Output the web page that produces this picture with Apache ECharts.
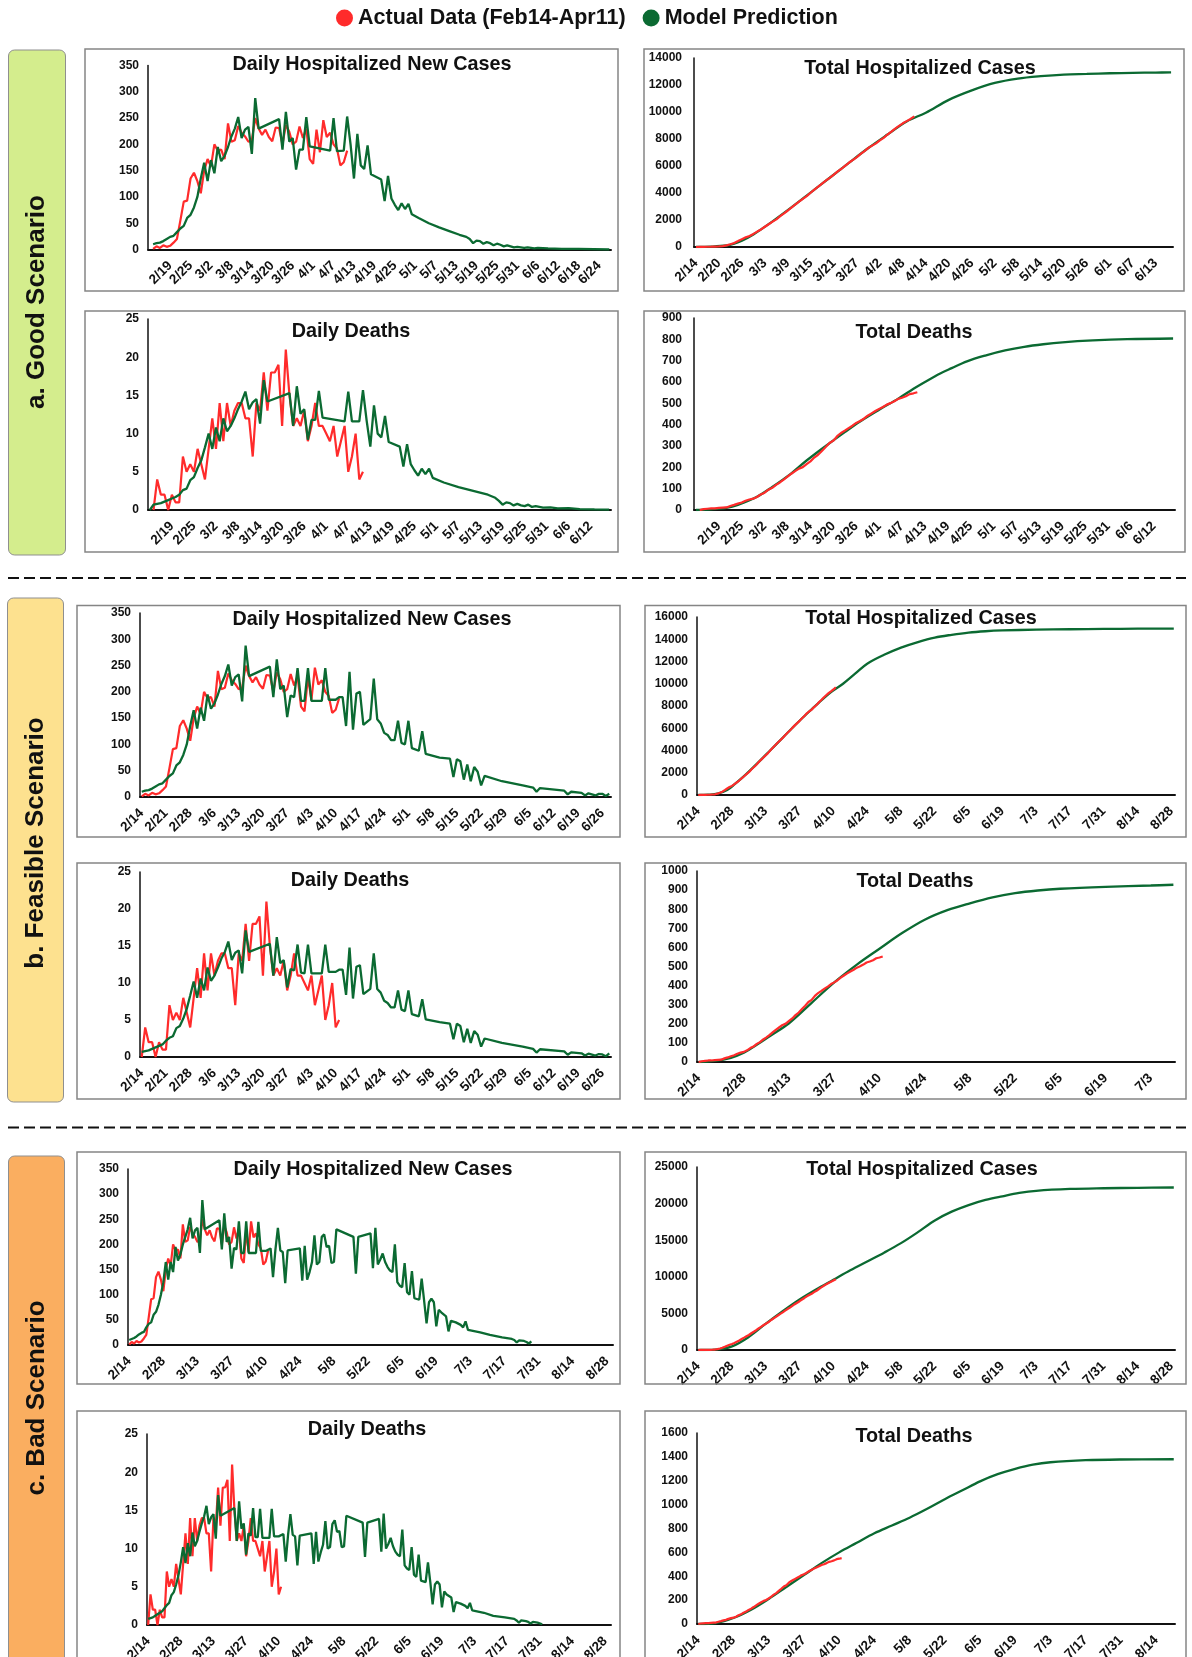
<!DOCTYPE html>
<html>
<head>
<meta charset="utf-8">
<title>COVID-19 hospitalization scenarios</title>
<script src="https://cdn.jsdelivr.net/npm/echarts@6/dist/echarts.min.js"></script>
<style>
  html, body { margin: 0; padding: 0; background: #ffffff; }
  #chart { width: 1192px; height: 1657px; }
</style>
</head>
<body>
<div id="chart"></div>
<script>
// ---- Observed data, one value per day from 2/14 to 4/11 ----
const actualDailyCases = [1,6,3,8,5,7,13,20,55,91,93,135,146,130,107,150,172,158,200,188,190,172,240,205,208,235,222,215,205,208,250,230,218,228,214,206,232,231,200,237,224,200,205,234,212,230,172,163,228,185,246,214,222,200,192,160,166,188];
const actualDailyDeaths = [0,4,2,2,0,2,1,1,7,5,6,5,8,6,4,8,12,8,14,9,14,11,13,14,14,12,12,7,14,13,18,13,18,18,19,11,21,15,11,12,11,13,9,11,14,11,11,10,9,11,7,9,11,5,7,10,4,5];
const actualTotalCases = [1,7,10,18,23,30,43,63,118,209,302,437,583,713,820,970,1142,1300,1500,1688,1878,2050,2290,2495,2703,2938,3160,3375,3580,3788,4038,4268,4486,4714,4928,5134,5366,5597,5797,6034,6258,6458,6663,6897,7109,7339,7511,7674,7902,8087,8333,8547,8769,8969,9161,9321,9487,9675];
const actualTotalDeaths = [0,4,6,8,8,10,11,12,19,24,30,35,43,49,53,61,73,81,95,104,118,129,142,156,170,182,194,201,215,228,246,259,277,295,314,325,346,361,372,384,395,408,417,428,442,453,464,474,483,494,501,510,521,526,533,543,547,552];

// ---- Model predictions as [days after 2/14, value] ----
const goodDailyCasesModel = [[0,10],[1,12],[2,13],[3,16],[4,20],[5,24],[6,26],[7,33],[8,40],[9,45],[10,60],[11,66],[12,80],[13,100],[14,135],[15,165],[16,130],[17,170],[18,145],[19,195],[20,168],[21,178],[22,195],[23,215],[24,230],[25,252],[26,212],[27,228],[28,233],[29,182],[30,288],[31,230],[37,248],[38,190],[39,262],[40,205],[41,212],[42,152],[43,190],[44,190],[45,252],[46,196],[52,188],[53,250],[54,187],[56,188],[57,253],[58,200],[59,135],[60,220],[61,160],[62,153],[63,198],[64,143],[67,133],[68,92],[69,140],[70,97],[71,85],[72,75],[73,88],[74,77],[75,87],[76,67],[78,60],[81,50],[84,42],[87,35],[90,28],[92,24],[93,20],[94,12],[95,17],[96,16],[97,11],[98,14],[99,12],[100,8],[101,11],[102,9],[103,6],[104,8],[105,6],[106,4],[107,5],[109,3],[110,4],[112,2],[113,3],[116,2],[120,1],[125,1],[134,0]];
const goodDailyDeathsModel = [[-1,0],[0,0.7],[1,0.8],[2,0.9],[3,1.1],[4,1.3],[5,1.5],[6,1.7],[7,2.0],[8,2.6],[9,2.8],[10,3.9],[11,4.3],[12,5.5],[13,6.5],[14,8.2],[15,10.0],[16,8.0],[17,10.8],[18,9.0],[19,12.0],[20,10.3],[21,11.0],[22,12.0],[23,13.2],[24,14.2],[25,15.5],[26,13.2],[27,14.1],[28,14.5],[29,11.3],[30,17.0],[31,14.2],[37,15.3],[38,11.0],[39,16.2],[40,12.6],[41,13.2],[42,9.2],[43,11.8],[44,11.8],[45,15.6],[46,12.1],[52,11.6],[53,15.5],[54,11.6],[56,11.6],[57,15.7],[58,11.7],[59,8.3],[60,13.7],[61,10.0],[62,9.5],[63,12.3],[64,8.9],[67,8.3],[68,5.7],[69,8.6],[70,6.0],[71,5.2],[72,4.5],[73,5.4],[74,4.7],[75,5.4],[76,4.2],[79,3.6],[83,3.0],[87,2.5],[91,2.0],[93,1.6],[94,1.2],[95,0.7],[96,1.0],[97,0.9],[98,0.6],[99,0.8],[100,0.6],[101,0.5],[102,0.7],[103,0.4],[104,0.5],[106,0.3],[108,0.35],[110,0.2],[113,0.25],[116,0.12],[120,0.08],[124,0.05]];
const goodTotalCasesModel = [[0,0],[4,25],[8,110],[10,250],[12,470],[15,930],[20,1900],[25,2950],[30,4050],[35,5150],[40,6250],[45,7330],[50,8330],[55,9300],[60,9950],[66,10900],[72,11600],[78,12150],[84,12470],[90,12650],[96,12770],[102,12820],[108,12870],[114,12900],[120,12920],[124,12940]];
const goodTotalDeathsModel = [[-1,0],[3,3],[7,10],[10,24],[15,62],[19,108],[24,172],[28,232],[33,300],[38,365],[42,415],[47,470],[52,522],[56,568],[59,600],[63,640],[66,665],[70,697],[75,725],[80,748],[85,765],[90,777],[95,786],[103,795],[112,801],[124,804]];

const feasibleDailyCasesModel = [[0,10],[1,12],[2,13],[3,16],[4,20],[5,24],[6,26],[7,33],[8,40],[9,45],[10,60],[11,66],[12,80],[13,100],[14,135],[15,165],[16,130],[17,170],[18,145],[19,195],[20,168],[21,178],[22,195],[23,215],[24,230],[25,252],[26,212],[27,228],[28,233],[29,182],[30,288],[31,230],[37,248],[38,190],[39,262],[40,205],[41,212],[42,152],[43,193],[44,190],[45,245],[46,183],[47,183],[48,245],[49,183],[52,183],[53,245],[54,185],[56,185],[57,190],[58,190],[59,135],[60,238],[61,128],[62,197],[63,200],[64,137],[66,148],[67,225],[68,148],[69,140],[70,122],[71,118],[72,108],[73,108],[74,145],[75,103],[76,100],[77,145],[78,93],[80,88],[81,125],[82,82],[86,75],[89,73],[90,38],[91,72],[92,68],[93,33],[94,62],[95,30],[96,57],[97,48],[98,22],[99,40],[104,30],[110,22],[113,18],[114,10],[115,17],[122,12],[123,5],[124,10],[127,8],[128,3],[129,7],[131,3],[132,6],[133,6],[134,2],[135,6]];
const feasibleDailyDeathsModel = [[0,0.7],[1,0.8],[2,0.9],[3,1.1],[4,1.3],[5,1.5],[6,1.7],[7,2.2],[8,2.6],[9,2.8],[10,3.9],[11,4.2],[12,5.2],[13,6.5],[14,8.3],[15,10.2],[16,8.0],[17,10.6],[18,9.0],[19,12.1],[20,10.3],[21,11.0],[22,12.1],[23,13.3],[24,14.2],[25,15.6],[26,13.1],[27,14.1],[28,14.4],[29,11.3],[30,17.1],[31,14.2],[37,15.3],[38,11.0],[39,16.2],[40,12.7],[41,13.1],[42,9.4],[43,11.9],[44,11.7],[45,15.2],[46,11.4],[47,11.3],[48,15.2],[49,11.3],[52,11.3],[53,15.2],[54,11.5],[56,11.5],[57,11.8],[58,11.8],[59,8.4],[60,14.8],[61,7.9],[62,12.2],[63,12.4],[64,8.5],[66,9.2],[67,14.0],[68,9.2],[69,8.7],[70,7.6],[71,7.3],[72,6.7],[73,6.7],[74,9.0],[75,6.4],[76,6.2],[77,9.0],[78,5.8],[80,5.5],[81,7.8],[82,5.1],[86,4.7],[89,4.5],[90,2.4],[91,4.5],[92,4.2],[93,2.0],[94,3.8],[95,1.9],[96,3.5],[97,3.0],[98,1.4],[99,2.5],[104,1.9],[110,1.4],[113,1.1],[114,0.6],[115,1.05],[122,0.75],[123,0.3],[124,0.62],[127,0.5],[128,0.2],[129,0.45],[131,0.2],[132,0.4],[133,0.35],[134,0.1],[135,0.5]];
const feasibleTotalCasesModel = [[0,0],[4,30],[8,120],[12,450],[15,950],[20,1900],[25,2950],[30,4050],[35,5150],[40,6250],[45,7300],[50,8300],[55,9250],[60,10000],[65,10900],[70,11800],[77,12600],[84,13250],[91,13750],[98,14150],[105,14400],[112,14600],[119,14720],[126,14790],[140,14860],[154,14900],[168,14930],[182,14950],[197,14960]];
const feasibleTotalDeathsModel = [[0,0],[5,6],[10,22],[14,48],[18,90],[22,135],[28,203],[35,310],[42,417],[49,510],[56,593],[63,675],[70,745],[77,795],[84,831],[91,862],[98,884],[105,898],[112,907],[126,917],[140,924],[147,928]];

const badDailyCasesModel = [[0,10],[1,12],[2,14],[3,17],[4,21],[5,24],[6,26],[7,35],[8,42],[9,45],[10,60],[11,66],[12,80],[13,100],[14,125],[15,165],[16,130],[17,165],[18,145],[19,195],[20,168],[21,180],[22,200],[23,215],[24,230],[25,253],[26,212],[27,228],[28,233],[29,183],[30,288],[31,230],[37,248],[38,190],[39,262],[40,205],[41,215],[42,152],[43,193],[44,190],[45,246],[46,183],[47,183],[48,246],[49,183],[52,183],[53,245],[54,187],[56,187],[58,192],[59,135],[60,190],[61,233],[62,188],[63,185],[64,123],[65,188],[70,192],[71,128],[72,197],[73,130],[74,145],[75,165],[76,218],[77,160],[78,165],[79,215],[80,220],[81,195],[82,197],[83,163],[84,165],[85,230],[92,215],[93,142],[94,215],[99,222],[100,153],[101,233],[102,160],[103,170],[104,182],[105,165],[106,155],[107,148],[108,145],[109,200],[110,125],[111,118],[112,115],[113,163],[114,105],[115,100],[116,147],[117,93],[119,90],[120,132],[121,88],[122,43],[123,85],[124,92],[125,85],[126,37],[127,70],[128,65],[130,57],[131,27],[132,48],[134,45],[136,40],[137,35],[138,47],[139,30],[144,25],[148,20],[153,15],[157,12],[158,10],[159,5],[160,9],[162,8],[163,6],[164,3],[165,7]];
const badDailyDeathsModel = [[0,0.8],[1,0.9],[2,1.0],[3,1.2],[4,1.4],[5,1.6],[6,1.8],[7,2.2],[8,2.6],[9,2.9],[10,3.9],[11,4.3],[12,5.3],[13,6.5],[14,8.2],[15,10.2],[16,8.1],[17,10.7],[18,9.0],[19,12.1],[20,10.3],[21,11.0],[22,12.2],[23,13.3],[24,14.2],[25,15.6],[26,13.2],[27,14.1],[28,14.5],[29,11.3],[30,17.0],[31,14.3],[37,15.3],[38,11.0],[39,16.2],[40,12.6],[41,13.3],[42,9.2],[43,12.0],[44,11.7],[45,15.3],[46,11.5],[47,11.5],[48,15.2],[49,11.4],[52,11.4],[53,15.2],[54,11.6],[56,11.6],[58,11.9],[59,8.3],[60,11.8],[61,14.5],[62,11.8],[63,11.6],[64,7.8],[65,11.7],[70,12.0],[71,8.0],[72,12.2],[73,8.3],[74,9.5],[75,10.5],[76,13.6],[77,10.0],[78,10.2],[79,13.2],[80,13.7],[81,12.2],[82,12.3],[83,10.2],[84,10.3],[85,14.3],[92,13.4],[93,8.9],[94,13.4],[99,13.9],[100,9.6],[101,14.6],[102,10.0],[103,10.6],[104,11.4],[105,10.3],[106,9.6],[107,9.2],[108,9.0],[109,12.5],[110,7.8],[111,7.4],[112,7.2],[113,10.2],[114,6.6],[115,6.3],[116,9.2],[117,5.8],[119,5.6],[120,8.2],[121,5.6],[122,2.7],[123,5.3],[124,5.7],[125,5.3],[126,2.3],[127,4.4],[128,4.0],[130,3.6],[131,1.7],[132,3.0],[134,2.8],[136,2.5],[137,2.2],[138,2.9],[139,1.9],[144,1.6],[148,1.2],[153,1.0],[157,0.8],[158,0.6],[159,0.3],[160,0.6],[162,0.5],[163,0.4],[164,0.2],[165,0.4],[167,0.3],[169,0.1]];
const badTotalCasesModel = [[0,0],[7,60],[14,500],[21,1800],[28,3600],[35,5300],[42,6900],[49,8300],[56,9600],[63,10900],[70,12100],[77,13300],[84,14600],[91,16100],[98,17700],[105,18900],[112,19800],[119,20500],[126,21000],[133,21450],[140,21740],[154,22000],[168,22100],[182,22150],[197,22200]];
const badTotalDeathsModel = [[0,0],[7,8],[14,50],[21,120],[28,210],[35,310],[42,410],[49,510],[56,600],[63,680],[70,760],[77,825],[84,890],[91,965],[98,1045],[105,1120],[112,1195],[119,1255],[126,1300],[133,1335],[140,1355],[154,1372],[168,1378],[189,1380]];

// ---- Text ----
const ACTUAL = 'Actual Data (Feb14-Apr11)';
const MODEL = 'Model Prediction';
const scenarioNames = ['a. Good Scenario', 'b. Feasible Scenario', 'c. Bad Scenario'];
const TITLE_CASES = 'Daily Hospitalized New Cases';
const TITLE_TOTAL_CASES = 'Total Hospitalized Cases';
const TITLE_DEATHS = 'Daily Deaths';
const TITLE_TOTAL_DEATHS = 'Total Deaths';

// ---- Styling ----
const RED = '#ff2b2b';
const GREEN = '#0b6a32';
const MAIN_FONT = '"Liberation Sans", Arial, sans-serif';

// Dates counted from 2/14/2020
const BASE = Date.UTC(2020, 1, 14);
function dayLabel(offset) {
  const d = new Date(BASE + offset * 86400000);
  return (d.getUTCMonth() + 1) + '/' + d.getUTCDate();
}
function dateRange(startOffset, count) {
  return Array.from({ length: count }, (_, k) => dayLabel(startOffset + k));
}
function fromKnots(list) { return list.map(([d, v]) => [dayLabel(d), v]); }
function fromDaily(values) { return values.map((v, k) => [dayLabel(k), v]); }

// One entry per small chart: axis range, label spacing, data and placement
const panels = [
  { title: TITLE_CASES, start: -1, days: 136, labelFirst: 6, labelStep: 6, yMax: 350, yStep: 50, actual: actualDailyCases, model: goodDailyCasesModel, total: false,
    grid: [148, 65.5, 463, 184], box: [85, 49, 533, 242], titleAt: [372, 65], yGap: 9 },
  { title: TITLE_TOTAL_CASES, start: 0, days: 125, labelFirst: 0, labelStep: 6, yMax: 14000, yStep: 2000, actual: actualTotalCases, model: goodTotalCasesModel, total: true,
    grid: [694, 58, 479, 189], box: [644, 49, 540, 242], titleAt: [920, 69], yGap: 12 },
  { title: TITLE_DEATHS, start: -1, days: 126, labelFirst: 6, labelStep: 6, yMax: 25, yStep: 5, actual: actualDailyDeaths, model: goodDailyDeathsModel, total: false,
    grid: [148, 319, 463, 191], box: [85, 311, 533, 241], titleAt: [351, 332], yGap: 9 },
  { title: TITLE_TOTAL_DEATHS, start: -1, days: 126, labelFirst: 6, labelStep: 6, yMax: 900, yStep: 100, actual: actualTotalDeaths, model: goodTotalDeathsModel, total: true,
    grid: [694, 318, 481, 192], box: [644, 311, 541, 241], titleAt: [914, 333], yGap: 12 },

  { title: TITLE_CASES, start: 0, days: 136, labelFirst: 0, labelStep: 7, yMax: 350, yStep: 50, actual: actualDailyCases, model: feasibleDailyCasesModel, total: false,
    grid: [140, 613, 471, 184], box: [77, 605.5, 543, 231.5], titleAt: [372, 620], yGap: 9 },
  { title: TITLE_TOTAL_CASES, start: 0, days: 198, labelFirst: 0, labelStep: 14, yMax: 16000, yStep: 2000, actual: actualTotalCases, model: feasibleTotalCasesModel, total: true,
    grid: [697, 617, 478, 178], box: [645, 605.5, 541, 231.5], titleAt: [921, 619], yGap: 9 },
  { title: TITLE_DEATHS, start: 0, days: 136, labelFirst: 0, labelStep: 7, yMax: 25, yStep: 5, actual: actualDailyDeaths, model: feasibleDailyDeathsModel, total: false,
    grid: [140, 872, 471, 185], box: [77, 863, 543, 236], titleAt: [350, 881], yGap: 9 },
  { title: TITLE_TOTAL_DEATHS, start: 0, days: 148, labelFirst: 0, labelStep: 14, yMax: 1000, yStep: 100, actual: actualTotalDeaths, model: feasibleTotalDeathsModel, total: true,
    grid: [697, 871, 478, 191], box: [645, 863, 541, 236], titleAt: [915, 882], yGap: 9 },

  { title: TITLE_CASES, start: 0, days: 199, labelFirst: 0, labelStep: 14, yMax: 350, yStep: 50, actual: actualDailyCases, model: badDailyCasesModel, total: false,
    grid: [128, 1169, 485, 176], box: [77, 1152, 543, 232], titleAt: [373, 1170], yGap: 9 },
  { title: TITLE_TOTAL_CASES, start: 0, days: 198, labelFirst: 0, labelStep: 14, yMax: 25000, yStep: 5000, actual: actualTotalCases, model: badTotalCasesModel, total: true,
    grid: [697, 1167, 478, 183], box: [645, 1152, 541, 232], titleAt: [922, 1170], yGap: 9 },
  { title: TITLE_DEATHS, start: 0, days: 199, labelFirst: 0, labelStep: 14, yMax: 25, yStep: 5, actual: actualDailyDeaths, model: badDailyDeathsModel, total: false,
    grid: [147, 1434, 464, 191], box: [77, 1411, 543, 252], titleAt: [367, 1430], yGap: 9 },
  { title: TITLE_TOTAL_DEATHS, start: 0, days: 190, labelFirst: 0, labelStep: 14, yMax: 1600, yStep: 200, actual: actualTotalDeaths, model: badTotalDeathsModel, total: true,
    grid: [697, 1433, 478, 191], box: [645, 1411, 541, 252], titleAt: [914, 1437], yGap: 9 }
];

const scenarioBoxes = [
  { name: scenarioNames[0], fill: '#d4ed8d', rect: [8.5, 50, 57, 505], textAt: [37, 302] },
  { name: scenarioNames[1], fill: '#fde18f', rect: [7.5, 598, 56, 504], textAt: [35.5, 843] },
  { name: scenarioNames[2], fill: '#faae60', rect: [8.5, 1156, 56, 520], textAt: [36.5, 1398] }
];
const separatorsY = [578, 1127.5];

const grids = [], xAxes = [], yAxes = [], series = [], elements = [];

panels.forEach((p, i) => {
  // Fixed plot rectangles: axis labels may run past the page edge without shrinking the plot
  grids.push({ left: p.grid[0], top: p.grid[1], width: p.grid[2], height: p.grid[3],
               containLabel: false, outerBoundsMode: 'none' });
  xAxes.push({
    type: 'category', gridIndex: i, data: dateRange(p.start, p.days), boundaryGap: true,
    axisLine: { show: true, onZero: true, lineStyle: { color: '#111', width: 2 } },
    axisTick: { show: false },
    splitLine: { show: false },
    axisLabel: {
      interval: (idx) => idx >= p.labelFirst && (idx - p.labelFirst) % p.labelStep === 0,
      rotate: 45, margin: 14, color: '#111', fontWeight: 'bold', fontSize: 13.5, fontFamily: MAIN_FONT
    }
  });
  yAxes.push({
    type: 'value', gridIndex: i, min: 0, max: p.yMax, interval: p.yStep,
    axisLine: { show: true, lineStyle: { color: '#111', width: 1.5 } },
    axisTick: { show: false },
    splitLine: { show: false },
    axisLabel: { margin: p.yGap, color: '#111', fontWeight: 'bold', fontSize: 12, fontFamily: MAIN_FONT,
                 formatter: (v) => String(v) }
  });
  const actualSeries = {
    name: ACTUAL, type: 'line', xAxisIndex: i, yAxisIndex: i, data: fromDaily(p.actual),
    symbol: 'none', lineStyle: { color: RED, width: 2.2 }, itemStyle: { color: RED },
    z: p.total ? 4 : 2
  };
  const modelSeries = {
    name: MODEL, type: 'line', xAxisIndex: i, yAxisIndex: i, data: fromKnots(p.model),
    symbol: 'none', smooth: p.total ? 0.35 : false,
    lineStyle: { color: GREEN, width: 2.3 }, itemStyle: { color: GREEN },
    z: p.total ? 2 : 4
  };
  series.push(actualSeries, modelSeries);

  elements.push({
    type: 'rect', shape: { x: p.box[0], y: p.box[1], width: p.box[2], height: p.box[3] },
    style: { fill: 'none', stroke: '#858585', lineWidth: 1.5 }, z: 1, silent: true
  });
  elements.push({
    type: 'text', x: p.titleAt[0], y: p.titleAt[1], z: 10, silent: true,
    style: { text: p.title, font: 'bold 19.8px ' + MAIN_FONT, fill: '#111',
             textAlign: 'center', textVerticalAlign: 'middle', align: 'center', verticalAlign: 'middle' }
  });
});

scenarioBoxes.forEach((s) => {
  elements.push({
    type: 'rect', shape: { x: s.rect[0], y: s.rect[1], width: s.rect[2], height: s.rect[3], r: 6 },
    style: { fill: s.fill, stroke: '#8f8f8f', lineWidth: 1 }, z: 1, silent: true
  });
  elements.push({
    type: 'text', x: s.textAt[0], y: s.textAt[1], rotation: Math.PI / 2, z: 10, silent: true,
    style: { text: s.name, font: 'bold 26px ' + MAIN_FONT, fill: '#111',
             textAlign: 'center', textVerticalAlign: 'middle', align: 'center', verticalAlign: 'middle' }
  });
});

separatorsY.forEach((y) => {
  elements.push({
    type: 'line', shape: { x1: 8, y1: y, x2: 1186, y2: y }, silent: true,
    style: { stroke: '#111', lineWidth: 2, lineDash: [11, 5] }
  });
});

const chart = echarts.init(document.getElementById('chart'), null, { renderer: 'canvas', width: 1192, height: 1657 });
chart.setOption({
  backgroundColor: '#ffffff',
  animation: false,
  legend: {
    top: 2, left: 331, icon: 'circle', itemWidth: 17, itemHeight: 17, itemGap: 17, selectedMode: false,
    data: [ACTUAL, MODEL],
    textStyle: { fontSize: 21.5, fontWeight: 'bold', fontFamily: MAIN_FONT, color: '#111' }
  },
  grid: grids,
  xAxis: xAxes,
  yAxis: yAxes,
  series: series,
  graphic: { elements: elements }
});
</script>
</body>
</html>
